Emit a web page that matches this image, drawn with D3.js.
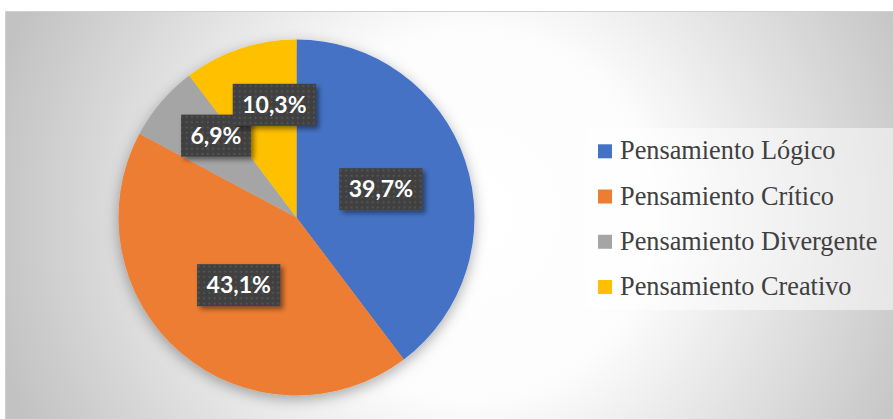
<!DOCTYPE html>
<html>
<head>
<meta charset="utf-8">
<script src="https://cdn.jsdelivr.net/npm/d3@7"></script>
<style>
html,body{margin:0;padding:0;background:#fff;}
svg{display:block;}
</style>
</head>
<body>
<svg id="chart" width="893" height="419"></svg>
<script>
const categories = ["Pensamiento Lógico", "Pensamiento Crítico", "Pensamiento Divergente", "Pensamiento Creativo"];
const values = [39.7, 43.1, 6.9, 10.3];
const labels = ["39,7%", "43,1%", "6,9%", "10,3%"];
const colors = ["#4472C4", "#ED7D31", "#A5A5A5", "#FFC000"];

const W = 893, H = 419;
const svg = d3.select("#chart");
const defs = svg.append("defs");

// background radial gradient
const bg = defs.append("radialGradient").attr("id", "bgGrad")
  .attr("gradientUnits", "userSpaceOnUse")
  .attr("cx", 470).attr("cy", 215).attr("r", 490);
bg.append("stop").attr("offset", 0).attr("stop-color", "#ffffff");
bg.append("stop").attr("offset", 0.38).attr("stop-color", "#fcfcfc");
bg.append("stop").attr("offset", 1).attr("stop-color", "#c2c2c2");

// pie shadow
const f1 = defs.append("filter").attr("id", "pieShadow")
  .attr("x", "-20%").attr("y", "-20%").attr("width", "140%").attr("height", "140%");
f1.append("feDropShadow").attr("dx", 0).attr("dy", 4).attr("stdDeviation", 7)
  .attr("flood-color", "#000").attr("flood-opacity", 0.32);

// label shadow
const f2 = defs.append("filter").attr("id", "lblShadow")
  .attr("x", "-20%").attr("y", "-20%").attr("width", "150%").attr("height", "150%");
f2.append("feDropShadow").attr("dx", 3).attr("dy", 3).attr("stdDeviation", 2.5)
  .attr("flood-color", "#000").attr("flood-opacity", 0.45);

// dotted pattern for label boxes
const pat = defs.append("pattern").attr("id", "dots")
  .attr("patternUnits", "userSpaceOnUse").attr("width", 5.3).attr("height", 5.3);
pat.append("rect").attr("width", 5.3).attr("height", 5.3).attr("fill", "#404040");
pat.append("rect").attr("x", 1.5).attr("y", 1.5).attr("width", 1.8).attr("height", 1.8).attr("fill", "#585858");

// chart area
svg.append("rect").attr("x", 5.5).attr("y", 11.5).attr("width", W).attr("height", H)
  .attr("fill", "url(#bgGrad)").attr("stroke", "#d0d0d0").attr("stroke-width", 1);

// pie
const cx = 296.5, cy = 217.5, R = 178;
const pie = d3.pie().sort(null).value(d => d)(values);
const arc = d3.arc().innerRadius(0).outerRadius(R);

const g = svg.append("g").attr("transform", `translate(${cx},${cy})`);
g.append("g").attr("filter", "url(#pieShadow)")
  .selectAll("path").data(pie).join("path")
  .attr("d", arc)
  .attr("fill", (d, i) => colors[i]);

// labels
const lblG = g.append("g");
pie.forEach((d, i) => {
  const small = values[i] < 15;
  const frac = small ? 0.645 : 0.5;
  // best-fit style: small slice labels pushed slightly toward the larger neighbour gap
  const a = (d.startAngle + d.endAngle) / 2 + (small ? (d.endAngle - d.startAngle) * 0.2 : 0);
  const x = Math.sin(a) * R * frac;
  const y = -Math.cos(a) * R * frac;
  const lg = lblG.append("g").attr("transform", `translate(${x},${y})`);
  const box = lg.append("rect").attr("fill", "url(#dots)").attr("filter", "url(#lblShadow)");
  const t = lg.append("text")
    .attr("text-anchor", "middle").attr("dy", "0.36em")
    .attr("fill", "#ffffff")
    .style("font-family", "Lato, 'Open Sans', sans-serif")
    .style("font-weight", "bold").style("font-size", "23px")
    .text(labels[i]);
  const bb = t.node().getBBox();
  const bw = bb.width + 19, bh = 42;
  box.attr("x", -bw / 2).attr("y", -bh / 2).attr("width", bw).attr("height", bh);
});

// legend
const legX = 585, legY = 128, legW = 308, legH = 182;
svg.append("rect").attr("x", legX).attr("y", legY).attr("width", legW).attr("height", legH)
  .attr("fill", "#ffffff").attr("fill-opacity", 0.5);

const rowY = d3.scalePoint().domain(categories).range([151.3, 287]);
const leg = svg.append("g");
categories.forEach((c, i) => {
  const y = rowY(c);
  leg.append("rect").attr("x", 598).attr("y", y - 7).attr("width", 14).attr("height", 14)
    .attr("fill", colors[i]);
  leg.append("text").attr("x", 620).attr("y", y + 8)
    .attr("fill", "#404040")
    .style("font-family", "'Liberation Serif', 'Times New Roman', serif")
    .style("font-size", "26.3px")
    .text(c);
});
</script>
</body>
</html>
